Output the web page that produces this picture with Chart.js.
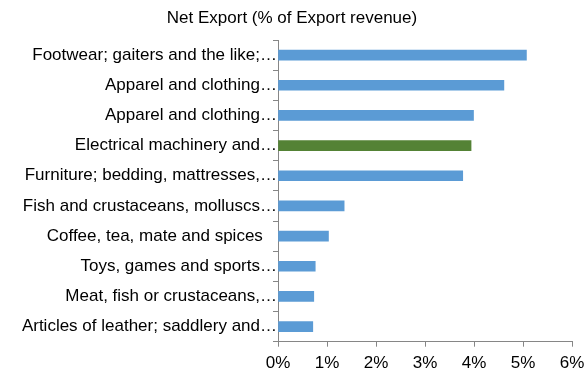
<!DOCTYPE html>
<html>
<head>
<meta charset="utf-8">
<script src="https://cdn.jsdelivr.net/npm/chart.js@4"></script>
<style>
  html, body { margin: 0; padding: 0; background: #fff; }
  #wrap { width: 584px; height: 371px; }
</style>
</head>
<body>
<div id="wrap"><canvas id="netExportChart"></canvas></div>
<script>
// Data
const categories = [
  "Footwear; gaiters and the like;\u2026",
  "Apparel and clothing\u2026",
  "Apparel and clothing\u2026",
  "Electrical machinery and\u2026",
  "Furniture; bedding, mattresses,\u2026",
  "Fish and crustaceans, molluscs\u2026",
  "Coffee, tea, mate and spices   ",
  "Toys, games and sports\u2026",
  "Meat, fish or crustaceans,\u2026",
  "Articles of leather; saddlery and\u2026",
];
const netExport = [5.07, 4.61, 3.99, 3.94, 3.77, 1.35, 1.03, 0.76, 0.73, 0.71];
const highlighted = "Electrical machinery and\u2026";
const xTicks = [0, 1, 2, 3, 4, 5, 6];

const blue = "#5b9bd5";
const green = "#548235";
const axisGrey = "#868686";
const font = { family: "'Liberation Sans', Arial, sans-serif", size: 17 };

const ctx = document.getElementById("netExportChart").getContext("2d");
new Chart(ctx, {
  type: "bar",
  data: {
    labels: categories,
    datasets: [
      {
        label: "Net Export",
        data: netExport,
        backgroundColor: categories.map((c) => (c === highlighted ? green : blue)),
        barThickness: 10,
      },
    ],
  },
  options: {
    indexAxis: "y",
    responsive: true,
    maintainAspectRatio: false,
    animation: false,
    layout: { padding: { left: 0, right: 0, top: 0, bottom: 0 } },
    plugins: {
      legend: { display: false },
      tooltip: { enabled: false },
      title: {
        display: true,
        text: "Net Export (% of Export revenue)",
        color: "#000",
        font: { ...font, weight: "normal" },
        padding: { top: 8, bottom: 11.6 },
      },
    },
    scales: {
      x: {
        min: 0,
        max: 6,
        afterBuildTicks: (scale) => {
          scale.ticks = xTicks.map((v) => ({ value: v }));
        },
        afterFit: (scale) => {
          scale.height = 29.3;
          scale.paddingRight = 12;
          scale.paddingLeft = 0;
        },
        ticks: {
          color: "#000",
          font: font,
          padding: 6,
          maxRotation: 0,
          callback: (v) => v + "%",
        },
        grid: {
          drawOnChartArea: false,
          drawTicks: true,
          tickLength: 5,
          color: axisGrey,
        },
        border: { color: axisGrey, width: 1 },
      },
      y: {
        afterFit: (scale) => {
          scale.width = 278;
        },
        ticks: {
          color: "#000",
          font: font,
          padding: -4,
        },
        grid: {
          offset: true,
          drawOnChartArea: false,
          drawTicks: true,
          tickLength: 5,
          color: axisGrey,
        },
        border: { color: axisGrey, width: 1 },
      },
    },
  },
});
</script>
</body>
</html>
